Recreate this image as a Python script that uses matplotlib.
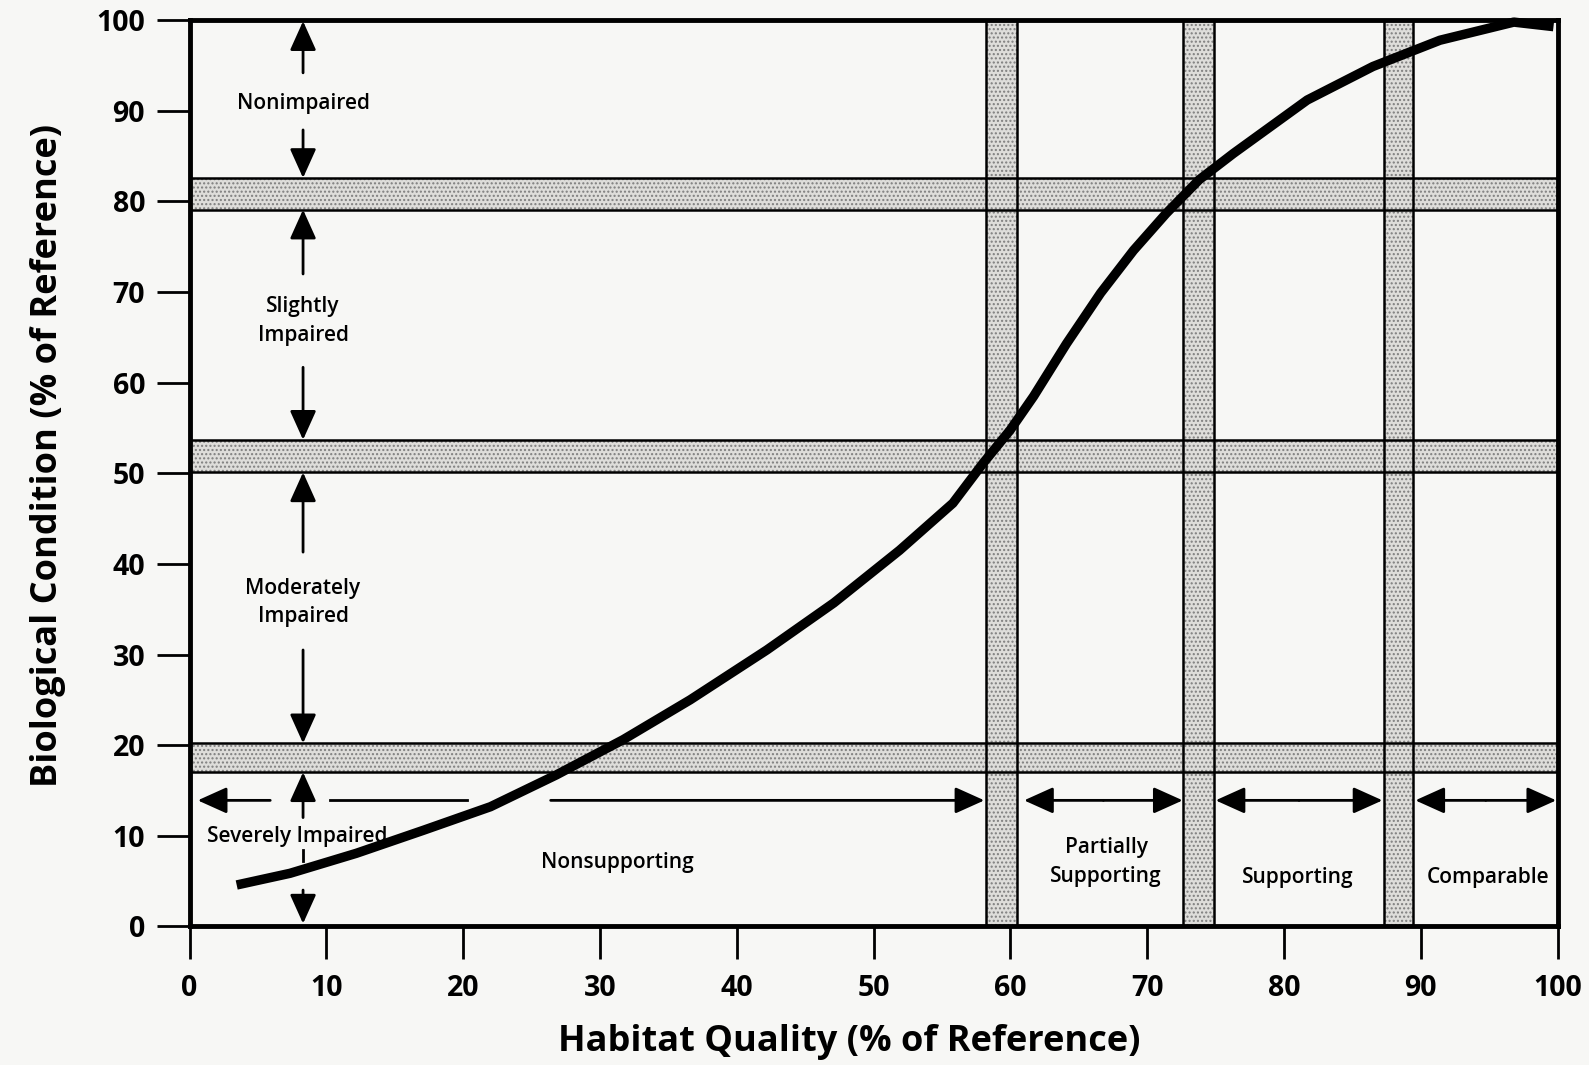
import numpy as np
import matplotlib.pyplot as plt

plt.rcParams['font.family'] = ['Open Sans', 'DejaVu Sans']
plt.rcParams['hatch.linewidth'] = 1.0

# curve
habitat = [3.45, 7.35, 12.2, 17.1, 22.0, 26.8, 31.7, 36.6, 42.2, 47.1, 51.9, 55.8,
           58.0, 60.0, 61.7, 64.1, 66.6, 69.0, 71.4, 73.8, 76.3, 81.7, 86.5, 91.4, 96.8, 99.7]
biological = [4.56, 5.85, 8.06, 10.6, 13.2, 16.7, 20.6, 25.0, 30.5, 35.7, 41.5, 46.7,
              51.1, 54.8, 58.5, 64.3, 69.9, 74.6, 78.7, 82.4, 85.3, 91.2, 94.9, 97.8, 99.8, 99.3]

# shaded transition bands
h_bands = [(79.1, 82.6), (50.1, 53.7), (17.0, 20.2)]
v_bands = [(58.2, 60.5), (72.6, 74.9), (87.3, 89.4)]

# biological categories (label, y of label, up arrow tail->tip, down arrow tail->tip)
bio_labels = ['Nonimpaired', 'Slightly\nImpaired', 'Moderately\nImpaired', 'Severely Impaired']
bio_label_x = [8.3, 8.3, 8.3, 7.9]
bio_label_y = [90.8, 66.8, 35.7, 9.9]
bio_up = [(94.2, 99.9), (72.0, 79.1), (41.3, 50.1), (12.0, 17.0)]
bio_down = [(87.9, 82.6), (61.7, 53.7), (30.5, 20.2), (4.0, 0.3)]
arrow_x = 8.3

# habitat categories
hab_labels = ['Nonsupporting', 'Partially\nSupporting', 'Supporting', 'Comparable']
hab_label_x = [31.3, 67.0, 81.0, 94.9]
hab_label_y = [7.0, 7.1, 5.4, 5.4]
hab_span = [(0.6, 58.1), (61.0, 72.6), (75.0, 87.2), (89.6, 99.9)]
arrow_y = 13.9

ticks = list(range(0, 101, 10))

bg = '#f7f7f5'
fig = plt.figure(figsize=(15.89, 10.65), dpi=100, facecolor=bg)
ax = fig.add_axes([189.5 / 1589, 1 - 926.3 / 1065, (1557.6 - 189.5) / 1589, (926.3 - 20.3) / 1065])
ax.set_facecolor(bg)
ax.set_xlim(0, 100)
ax.set_ylim(0, 100)

for lo, hi in h_bands:
    ax.axhspan(lo, hi, facecolor='#deddda', edgecolor='#7e7e7e', hatch='....', linewidth=0, zorder=1)
for lo, hi in v_bands:
    ax.axvspan(lo, hi, facecolor='#deddda', edgecolor='#7e7e7e', hatch='....', linewidth=0, zorder=1)
for lo, hi in h_bands:
    for v in (lo, hi):
        ax.axhline(v, color='black', lw=1.8, zorder=2)
for lo, hi in v_bands:
    for v in (lo, hi):
        ax.axvline(v, color='black', lw=1.8, zorder=2)

ax.plot(habitat, biological, color='black', lw=6.8, solid_capstyle='butt',
        solid_joinstyle='round', zorder=5, clip_on=False)

arrow = dict(arrowstyle='-|>,head_length=1.0,head_width=0.45', color='black', lw=2,
             shrinkA=0, shrinkB=0, mutation_scale=18)

text_kw = dict(fontsize=15, fontweight='semibold', ha='center', va='center',
               linespacing=1.45, zorder=6)

for lab, lx, ly, up, down in zip(bio_labels, bio_label_x, bio_label_y, bio_up, bio_down):
    ax.annotate('', xy=(arrow_x, up[1]), xytext=(arrow_x, up[0]), arrowprops=arrow, zorder=4)
    ax.annotate('', xy=(arrow_x, down[1]), xytext=(arrow_x, down[0]), arrowprops=arrow, zorder=4)
    ax.text(lx, ly, lab, **text_kw)
# small stub below "Severely Impaired"
ax.plot([arrow_x, arrow_x], [7.2, 8.4], color='black', lw=2, zorder=4)

# Nonsupporting arrow is broken into pieces
ax.annotate('', xy=(hab_span[0][0], arrow_y), xytext=(5.9, arrow_y), arrowprops=arrow)
ax.plot([10.3, 20.3], [arrow_y, arrow_y], color='black', lw=2)
ax.annotate('', xy=(hab_span[0][1], arrow_y), xytext=(26.4, arrow_y), arrowprops=arrow)
for lo, hi in hab_span[1:]:
    ax.annotate('', xy=(lo, arrow_y), xytext=((lo + hi) / 2, arrow_y), arrowprops=arrow)
    ax.annotate('', xy=(hi, arrow_y), xytext=((lo + hi) / 2, arrow_y), arrowprops=arrow)
for lab, lx, ly in zip(hab_labels, hab_label_x, hab_label_y):
    ax.text(lx, ly, lab, **text_kw)

for s in ax.spines.values():
    s.set_linewidth(3.5)
    s.set_zorder(7)
ax.set_xticks(ticks)
ax.set_yticks(ticks)
ax.tick_params(axis='both', direction='out', length=24, width=2, labelsize=20.5)
ax.tick_params(axis='x', pad=10)
ax.tick_params(axis='y', pad=8)
for t in ax.get_xticklabels() + ax.get_yticklabels():
    t.set_fontweight('bold')

ax.set_xlabel('Habitat Quality (% of Reference)', fontsize=26, fontweight='bold')
ax.xaxis.set_label_coords(0.482, -0.108)
ax.set_ylabel('Biological Condition (% of Reference)', fontsize=26, fontweight='bold')
ax.yaxis.set_label_coords(-0.090, 0.52)

fig.savefig('out.png', dpi=100, facecolor=bg)
